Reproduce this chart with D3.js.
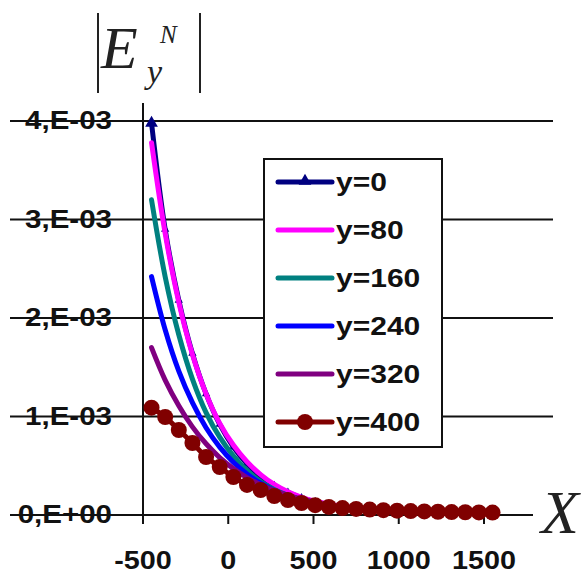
<!DOCTYPE html>
<html><head><meta charset="utf-8">
<script src="https://cdn.jsdelivr.net/npm/d3@7"></script>
<style>body{margin:0;background:#fff}svg{display:block}</style>
</head><body>
<script>
// ---- data ----
const xValues = [-450,-370,-290,-210,-130,-50,30,110,190,270,350,430,510,590,670,750,830,910,990,1070,1150,1230,1310,1390,1470,1550];
const seriesNames = ["y=0","y=80","y=160","y=240","y=320","y=400"];
const y0   = [3.98,2.90,2.18,1.64,1.23,0.92,0.69,0.52,0.39,0.30,0.23,0.175,0.135,0.105,0.085,0.070,0.058,0.050,0.044,0.039,0.035,0.032,0.029,0.027,0.025,0.024];
const y80  = [3.78,2.86,2.16,1.63,1.23,0.93,0.71,0.54,0.41,0.31,0.235,0.18,0.14,0.11,0.088,0.072,0.060,0.051,0.045,0.040,0.036,0.033,0.030,0.028,0.026,0.025];
const y160 = [3.20,2.42,1.83,1.38,1.04,0.79,0.60,0.45,0.34,0.26,0.20,0.155,0.12,0.095,0.078,0.065,0.055,0.048,0.042,0.038,0.034,0.031,0.029,0.027,0.025,0.024];
const y240 = [2.42,1.88,1.46,1.14,0.886,0.689,0.536,0.417,0.324,0.252,0.196,0.152,0.118,0.092,0.074,0.062,0.053,0.046,0.041,0.037,0.034,0.031,0.029,0.027,0.025,0.024];
const y320 = [1.70,1.37,1.11,0.895,0.723,0.583,0.471,0.380,0.307,0.248,0.200,0.162,0.13,0.10,0.08,0.066,0.056,0.048,0.042,0.038,0.034,0.031,0.029,0.027,0.025,0.024];
const y400 = [1.09,0.995,0.863,0.731,0.589,0.487,0.386,0.305,0.254,0.193,0.152,0.122,0.10,0.082,0.070,0.062,0.055,0.049,0.044,0.040,0.036,0.033,0.030,0.028,0.026,0.025];
const seriesValues = [y0,y80,y160,y240,y320,y400]; // units of 1e-3
const colors = ["#000080","#ff00ff","#008080","#0000ff","#800080","#800000"];
const yTicks = [0,1,2,3,4];
const yTickLabels = ["0,E+00","1,E-03","2,E-03","3,E-03","4,E-03"];
const xTicks = [-500,0,500,1000,1500];

const W=585,H=576;
const svg=d3.select("body").append("svg").attr("width",W).attr("height",H);
const x=d3.scaleLinear().domain([-500,1500]).range([143,484]);
const y=d3.scaleLinear().domain([0,4]).range([515,121]);

// gridlines
svg.append("g").selectAll("line").data(yTicks).join("line")
  .attr("x1",10).attr("x2",d=>d===0?533:553)
  .attr("y1",d=>y(d)).attr("y2",d=>y(d))
  .attr("stroke","#111").attr("stroke-width",2);
// y axis
svg.append("line").attr("x1",x(-500)).attr("x2",x(-500)).attr("y1",103).attr("y2",524)
  .attr("stroke","#111").attr("stroke-width",2);
// x ticks
svg.append("g").selectAll("line").data(xTicks.slice(1)).join("line")
  .attr("x1",d=>x(d)).attr("x2",d=>x(d)).attr("y1",515).attr("y2",524)
  .attr("stroke","#111").attr("stroke-width",2);

// y labels
svg.append("g").selectAll("text").data(yTicks).join("text")
  .attr("transform",d=>`translate(112,${y(d)+8}) scale(1.18,1)`)
  .attr("text-anchor","end")
  .attr("font-family","Liberation Sans, Arial, sans-serif").attr("font-weight","bold").attr("font-size",25)
  .attr("fill","#111")
  .text((d,i)=>yTickLabels[i]);
// x labels
svg.append("g").selectAll("text").data(xTicks).join("text")
  .attr("transform",d=>`translate(${x(d)},569) scale(1.15,1)`)
  .attr("text-anchor","middle")
  .attr("font-family","Liberation Sans, Arial, sans-serif").attr("font-weight","bold").attr("font-size",25)
  .attr("fill","#111")
  .text(d=>d);

// curves
const line=d3.line().x((d,i)=>x(xValues[i])).y(d=>y(d)).curve(d3.curveCatmullRom);
const tri=d3.symbol().type(d3.symbolTriangle).size(70);
const triSmall=d3.symbol().type(d3.symbolTriangle).size(30);
seriesValues.forEach((vals,si)=>{
  const g=svg.append("g");
  g.append("path").attr("d",line(vals)).attr("fill","none")
    .attr("stroke",colors[si]).attr("stroke-width",5).attr("stroke-linejoin","round").attr("stroke-linecap","round");
  if(si===0){
    g.selectAll("path.m").data(vals).join("path").attr("class","m")
      .attr("d",(d,i)=>i===0?tri():triSmall()).attr("transform",(d,i)=>`translate(${x(xValues[i])},${y(d)})`)
      .attr("fill",colors[0]);
  }
  if(si===5){
    g.selectAll("circle").data(vals).join("circle")
      .attr("cx",(d,i)=>x(xValues[i])).attr("cy",d=>y(d)).attr("r",8)
      .attr("fill",colors[5]);
  }
});

// legend
const lg=svg.append("g");
lg.append("rect").attr("x",264).attr("y",159).attr("width",178).attr("height",288)
  .attr("fill","#fff").attr("stroke","#111").attr("stroke-width",2);
seriesNames.forEach((nm,i)=>{
  const cy=182+i*48;
  lg.append("line").attr("x1",278).attr("x2",332).attr("y1",cy).attr("y2",cy)
    .attr("stroke",colors[i]).attr("stroke-width",5).attr("stroke-linecap","round");
  if(i===0) lg.append("path").attr("d",tri).attr("transform",`translate(305,${cy-1})`).attr("fill",colors[0]);
  if(i===5) lg.append("circle").attr("cx",305).attr("cy",cy).attr("r",8).attr("fill",colors[5]);
  lg.append("text").attr("transform",`translate(336,${cy+9}) scale(1.2,1)`)
    .attr("font-family","Liberation Sans, Arial, sans-serif").attr("font-weight","bold").attr("font-size",25)
    .attr("fill","#111").text(nm);
});

// axis titles
const serif="Liberation Serif, Times New Roman, serif";
svg.append("line").attr("x1",98).attr("x2",98).attr("y1",13).attr("y2",93).attr("stroke","#222").attr("stroke-width",2);
svg.append("line").attr("x1",200).attr("x2",200).attr("y1",13).attr("y2",93).attr("stroke","#222").attr("stroke-width",2);
svg.append("text").attr("x",101).attr("y",68).attr("font-family",serif).attr("font-style","italic").attr("font-size",60).attr("fill","#222").text("E");
svg.append("text").attr("x",160).attr("y",43).attr("font-family",serif).attr("font-style","italic").attr("font-size",25).attr("fill","#222").text("N");
svg.append("text").attr("x",147).attr("y",83).attr("font-family",serif).attr("font-style","italic").attr("font-size",34).attr("fill","#222").text("y");
svg.append("text").attr("x",541).attr("y",533).attr("font-family",serif).attr("font-style","italic").attr("font-size",62).attr("fill","#222").text("X");
</script>
</body></html>
